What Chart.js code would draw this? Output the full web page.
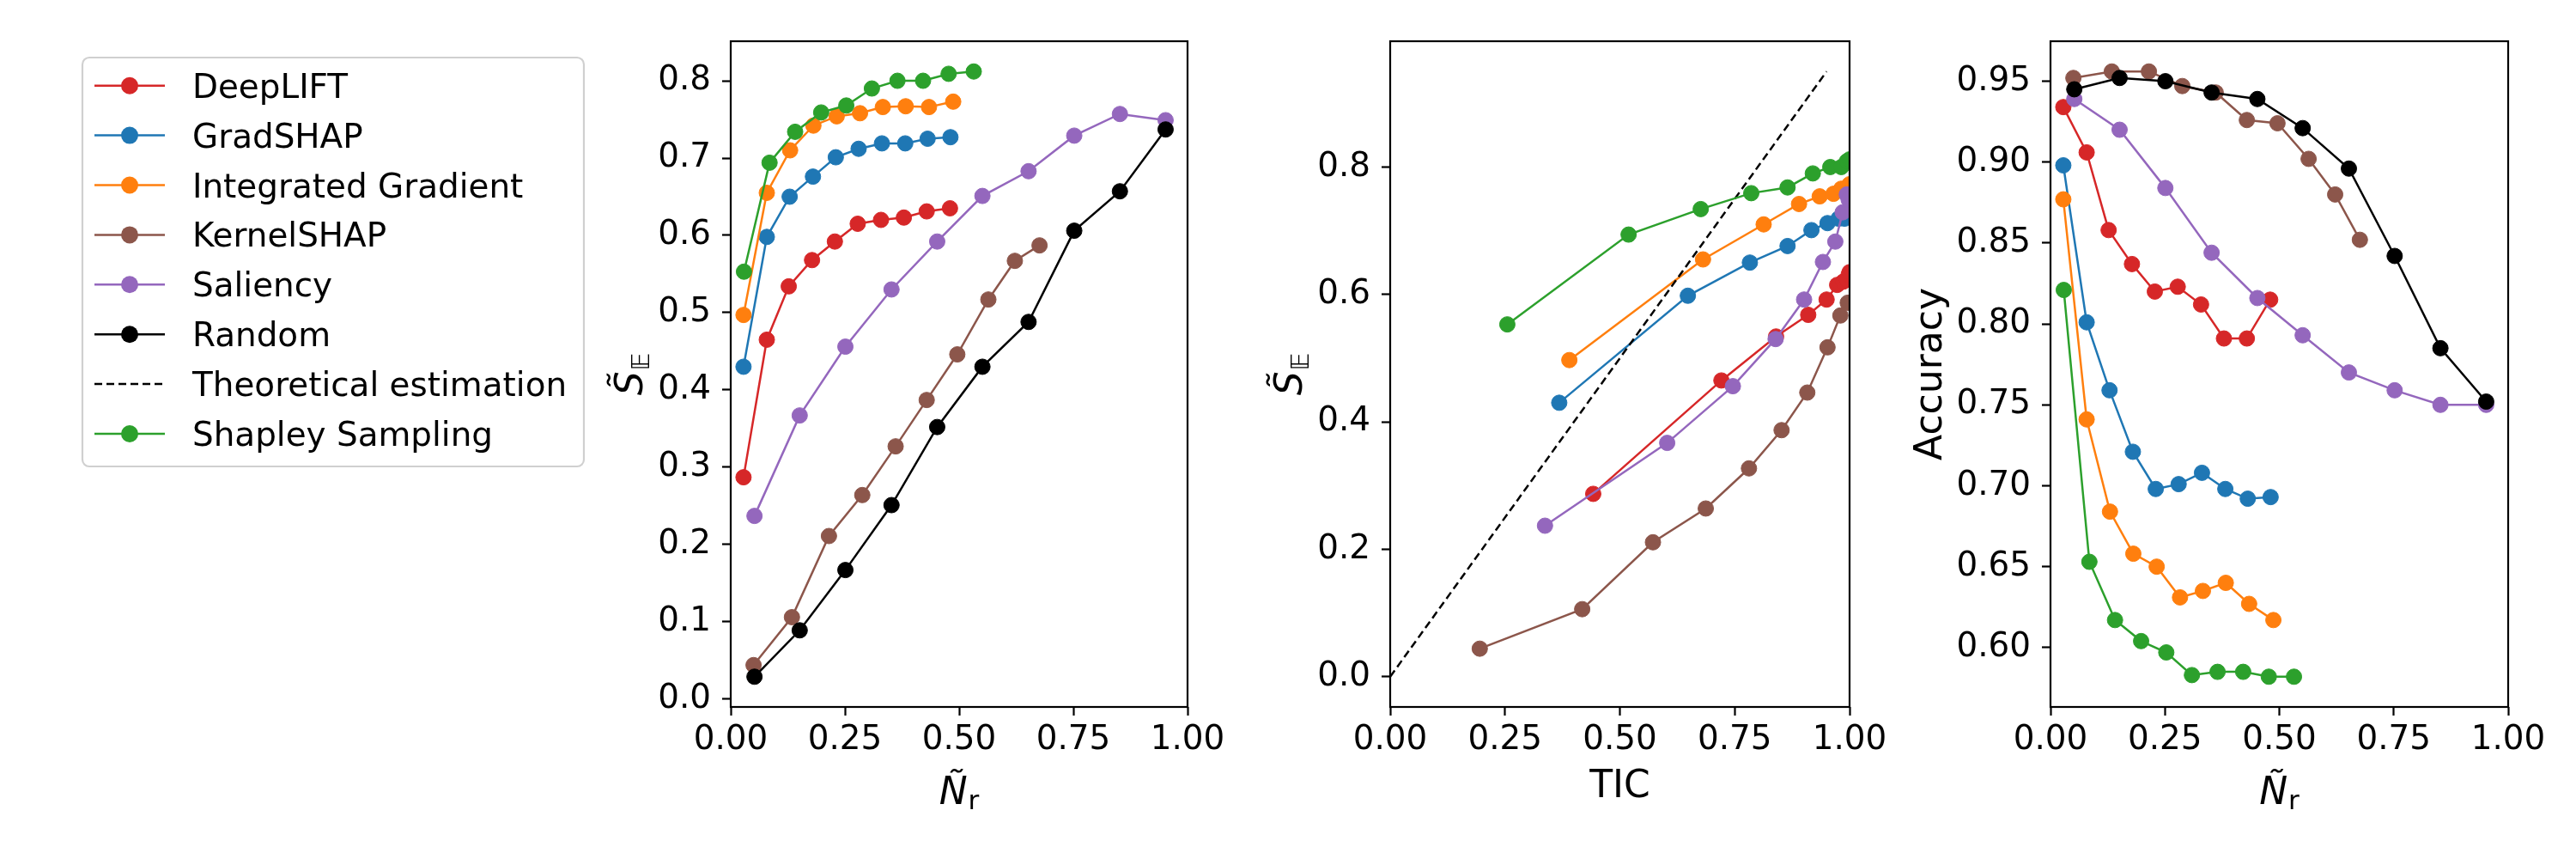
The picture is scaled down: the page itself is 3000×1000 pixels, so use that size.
<!DOCTYPE html>
<html>
<head>
<meta charset="utf-8">
<script src="https://cdn.jsdelivr.net/npm/chart.js@4.4.0/dist/chart.umd.min.js"></script>
<style>
  html, body { margin: 0; padding: 0; background: #fff; }
  #wrap { position: relative; width: 3000px; height: 1000px; background: #fff; overflow: hidden; }
  canvas { position: absolute; top: 0; }
</style>
</head>
<body>
<div id="wrap">
  <canvas id="c1" width="1440" height="1000" style="left:0px"></canvas>
  <canvas id="c2" width="774" height="1000" style="left:1440px"></canvas>
  <canvas id="c3" width="786" height="1000" style="left:2214px"></canvas>
</div>
<script>
// ---- data ----
const methods = ["DeepLIFT", "GradSHAP", "Integrated Gradient", "KernelSHAP", "Saliency", "Random", "Shapley Sampling"];
const colors = ["#d62728", "#1f77b4", "#ff7f0e", "#8c564b", "#9467bd", "#000000", "#2ca02c"];

// fraction of removed features (N_r)
const deepliftNr = [0.028, 0.079, 0.127, 0.178, 0.228, 0.278, 0.329, 0.379, 0.429, 0.480];
const gradshapNr = [0.028, 0.079, 0.129, 0.180, 0.230, 0.280, 0.331, 0.382, 0.431, 0.481];
const igNr       = [0.028, 0.079, 0.130, 0.181, 0.232, 0.283, 0.333, 0.383, 0.434, 0.487];
const kernelNr   = [0.050, 0.134, 0.215, 0.288, 0.361, 0.429, 0.496, 0.564, 0.622, 0.676];
const saliencyNr = [0.052, 0.151, 0.251, 0.352, 0.452, 0.551, 0.652, 0.752, 0.852, 0.952];
const randomNr   = [0.052, 0.151, 0.251, 0.352, 0.452, 0.551, 0.652, 0.752, 0.852, 0.952];
const shapleyNr  = [0.029, 0.085, 0.141, 0.198, 0.253, 0.309, 0.365, 0.421, 0.477, 0.532];

// S_E
const deepliftSE = [0.287, 0.465, 0.534, 0.568, 0.592, 0.615, 0.620, 0.623, 0.631, 0.635];
const gradshapSE = [0.430, 0.598, 0.650, 0.676, 0.701, 0.712, 0.719, 0.719, 0.725, 0.727];
const igSE       = [0.497, 0.655, 0.710, 0.742, 0.754, 0.758, 0.766, 0.767, 0.766, 0.773];
const kernelSE   = [0.044, 0.106, 0.211, 0.264, 0.327, 0.387, 0.446, 0.517, 0.567, 0.587];
const saliencySE = [0.237, 0.367, 0.456, 0.530, 0.592, 0.651, 0.683, 0.729, 0.757, 0.749];
const randomSE   = [0.029, 0.089, 0.167, 0.251, 0.352, 0.430, 0.488, 0.606, 0.657, 0.737];
const shapleySE  = [0.553, 0.694, 0.734, 0.759, 0.768, 0.790, 0.800, 0.800, 0.809, 0.812];

// TIC
const deepliftTIC = [0.442, 0.721, 0.840, 0.910, 0.950, 0.973, 0.986, 0.994, 0.998, 1.000];
const gradshapTIC = [0.368, 0.648, 0.783, 0.865, 0.917, 0.952, 0.976, 0.989, 0.996, 1.000];
const igTIC       = [0.390, 0.681, 0.813, 0.890, 0.935, 0.965, 0.982, 0.992, 0.998, 1.000];
const kernelTIC   = [0.195, 0.418, 0.572, 0.687, 0.781, 0.852, 0.908, 0.952, 0.980, 0.996];
const saliencyTIC = [0.337, 0.603, 0.746, 0.839, 0.901, 0.942, 0.969, 0.985, 0.994, 0.998];
const shapleyTIC  = [0.255, 0.519, 0.676, 0.786, 0.865, 0.920, 0.958, 0.982, 0.994, 1.000];
const theoryX = [0, 0.95];
const theoryY = [0, 0.95];

// accuracy
const deepliftAcc = [0.934, 0.906, 0.858, 0.837, 0.820, 0.823, 0.812, 0.791, 0.791, 0.815];
const gradshapAcc = [0.898, 0.801, 0.759, 0.721, 0.698, 0.701, 0.708, 0.698, 0.692, 0.693];
const igAcc       = [0.877, 0.741, 0.684, 0.658, 0.650, 0.631, 0.635, 0.640, 0.627, 0.617];
const kernelAcc   = [0.952, 0.956, 0.956, 0.947, 0.943, 0.926, 0.924, 0.902, 0.880, 0.852];
const saliencyAcc = [0.939, 0.920, 0.884, 0.844, 0.816, 0.793, 0.770, 0.759, 0.750, 0.750];
const randomAcc   = [0.945, 0.952, 0.950, 0.943, 0.939, 0.921, 0.896, 0.842, 0.785, 0.752];
const shapleyAcc  = [0.821, 0.653, 0.617, 0.604, 0.597, 0.583, 0.585, 0.585, 0.582, 0.582];

// tick values
const nrTicks  = [0, 0.25, 0.5, 0.75, 1];
const seTicks  = [0, 0.1, 0.2, 0.3, 0.4, 0.5, 0.6, 0.7, 0.8];
const ticTicks = [0, 0.2, 0.4, 0.6, 0.8];
const accTicks = [0.60, 0.65, 0.70, 0.75, 0.80, 0.85, 0.90, 0.95];

// ---- helpers ----
const FAMILY = "'DejaVu Sans', sans-serif";
const TICK_FONT = { family: FAMILY, size: 38.9 };
const TOP = 48, BOTTOM = 823, H = 1000;

function pairs(xs, ys) {
  return xs.map((x, i) => ({ x: x, y: ys[i] }));
}

function series(i, xs, ys) {
  return {
    label: methods[i],
    data: pairs(xs, ys),
    borderColor: colors[i],
    backgroundColor: colors[i],
    pointBackgroundColor: colors[i],
    pointBorderColor: colors[i],
    borderWidth: 2.5,
    pointRadius: 9,
    pointBorderWidth: 1,
    tension: 0,
    clip: 0
  };
}

// matplotlib-style auto limits with 5% margins
function autoRange(arrays) {
  const all = [].concat(...arrays);
  const lo = Math.min(...all), hi = Math.max(...all);
  const m = (hi - lo) * 0.05;
  return [lo - m, hi + m];
}

function drawRich(ctx, parts, x, y, vertical) {
  ctx.save();
  ctx.translate(x, y);
  if (vertical) ctx.rotate(-Math.PI / 2);
  let total = 0;
  parts.forEach(p => { ctx.font = p.font; p.w = ctx.measureText(p.t).width; total += p.w + (p.gap || 0); });
  let pos = -total / 2;
  ctx.fillStyle = "#000";
  ctx.textAlign = "left";
  ctx.textBaseline = "alphabetic";
  parts.forEach(p => {
    ctx.font = p.font;
    pos += p.gap || 0;
    ctx.fillText(p.t, pos, p.dy || 0);
    pos += p.w;
  });
  ctx.restore();
}

const nrLabel  = [{ t: "\u00D1", font: "italic 44px " + FAMILY }, { t: "r", font: "31px " + FAMILY, dy: 6, gap: 1 }];
const seLabel  = [{ t: "S\u0303", font: "italic 44px " + FAMILY }, { t: "\uD835\uDD3C", font: "28px " + FAMILY, dy: 8, gap: 1 }];
const ticLabel = [{ t: "TIC", font: "44px " + FAMILY }];
const accLabel = [{ t: "Accuracy", font: "44px " + FAMILY }];

// box around the axes + axis titles
function framePlugin(xParts, xBase, yParts, yBaseOffset) {
  return {
    id: "frame",
    afterDatasetsDraw(chart) {
      const a = chart.chartArea, ctx = chart.ctx;
      ctx.save();
      ctx.strokeStyle = "#000";
      ctx.lineWidth = 2.2;
      ctx.strokeRect(a.left, a.top, a.right - a.left, a.bottom - a.top);
      ctx.restore();
    },
    afterDraw(chart) {
      const a = chart.chartArea, ctx = chart.ctx;
      drawRich(ctx, xParts, (a.left + a.right) / 2, xBase, false);
      drawRich(ctx, yParts, a.left - yBaseOffset, (a.top + a.bottom) / 2, true);
    }
  };
}

const legendLabels = ["DeepLIFT", "GradSHAP", "Integrated Gradient", "KernelSHAP", "Saliency", "Random", "Theoretical estimation", "Shapley Sampling"];
const legendColors = ["#d62728", "#1f77b4", "#ff7f0e", "#8c564b", "#9467bd", "#000000", "#000000", "#2ca02c"];

const legendPlugin = {
  id: "sideLegend",
  afterDraw(chart) {
    const ctx = chart.ctx;
    ctx.save();
    ctx.beginPath();
    ctx.roundRect(96, 67, 584, 476, 8);
    ctx.fillStyle = "#fff";
    ctx.fill();
    ctx.strokeStyle = "#d0d0d0";
    ctx.lineWidth = 2.2;
    ctx.stroke();
    legendLabels.forEach((name, i) => {
      const y = 99.7 + i * 57.9;
      const dashed = name === "Theoretical estimation";
      ctx.strokeStyle = legendColors[i];
      ctx.lineWidth = 2.5;
      ctx.setLineDash(dashed ? [9, 5] : []);
      ctx.beginPath();
      ctx.moveTo(110, y);
      ctx.lineTo(192, y);
      ctx.stroke();
      ctx.setLineDash([]);
      if (!dashed) {
        ctx.fillStyle = legendColors[i];
        ctx.beginPath();
        ctx.arc(151, y, 10, 0, Math.PI * 2);
        ctx.fill();
      }
      ctx.fillStyle = "#000";
      ctx.font = "38.9px " + FAMILY;
      ctx.textAlign = "left";
      ctx.textBaseline = "alphabetic";
      ctx.fillText(name, 224, y + 14);
    });
    ctx.restore();
  }
};

function axisOpts(ticks, fmt, range, isX) {
  const o = {
    type: "linear",
    min: range[0],
    max: range[1],
    afterBuildTicks: s => { s.ticks = ticks.map(v => ({ value: v })); },
    ticks: {
      callback: v => v.toFixed(fmt),
      font: TICK_FONT,
      color: "#000",
      padding: isX ? 6 : 13,
      autoSkip: false,
      maxRotation: 0,
      minRotation: 0
    },
    grid: { display: true, drawOnChartArea: false, drawTicks: true, tickLength: 10, tickWidth: 2.2, tickColor: "#000" },
    border: { display: false }
  };
  if (isX) o.afterFit = s => { s.height = 100; };
  else o.afterFit = s => { s.width = 140; };
  return o;
}

function makeChart(id, datasets, cfg, extraPlugins) {
  return new Chart(document.getElementById(id), {
    type: "line",
    data: { datasets: datasets },
    options: {
      responsive: false,
      animation: false,
      devicePixelRatio: 1,
      parsing: true,
      layout: { padding: { left: cfg.left - 140, right: cfg.right, top: TOP, bottom: H - BOTTOM - 100 } },
      plugins: { legend: { display: false }, tooltip: { enabled: false } },
      scales: {
        x: axisOpts(nrTicks, 2, [0, 1], true),
        y: axisOpts(cfg.yTicks, cfg.yFmt, cfg.yRange, false)
      }
    },
    plugins: extraPlugins
  });
}

// draw order like matplotlib: later series on top
function ordered(list) {
  list.forEach((d, i) => { d.order = list.length - i; });
  return list;
}

// ---- panel 1: S_E vs N_r ----
const p1 = ordered([
  series(0, deepliftNr, deepliftSE),
  series(1, gradshapNr, gradshapSE),
  series(2, igNr, igSE),
  series(3, kernelNr, kernelSE),
  series(4, saliencyNr, saliencySE),
  series(5, randomNr, randomSE),
  series(6, shapleyNr, shapleySE)
]);
makeChart("c1", p1, {
  left: 851, right: 1440 - 1383,
  yTicks: seTicks, yFmt: 1,
  yRange: autoRange([deepliftSE, gradshapSE, igSE, kernelSE, saliencySE, randomSE, shapleySE])
}, [framePlugin(nrLabel, 936, seLabel, 103), legendPlugin]);

// ---- panel 2: S_E vs TIC ----
const theory = {
  label: "Theoretical estimation",
  data: pairs(theoryX, theoryY),
  borderColor: "#000",
  borderWidth: 2.5,
  borderDash: [9, 5],
  pointRadius: 0,
  tension: 0,
  clip: 0
};
const p2 = ordered([
  series(0, deepliftTIC, deepliftSE),
  series(1, gradshapTIC, gradshapSE),
  series(2, igTIC, igSE),
  series(3, kernelTIC, kernelSE),
  series(4, saliencyTIC, saliencySE),
  theory,
  series(6, shapleyTIC, shapleySE)
]);
makeChart("c2", p2, {
  left: 1619 - 1440, right: 774 - (2154 - 1440),
  yTicks: ticTicks, yFmt: 1,
  yRange: autoRange([deepliftSE, gradshapSE, igSE, kernelSE, saliencySE, shapleySE, theoryY])
}, [framePlugin(ticLabel, 928, seLabel, 103)]);

// ---- panel 3: accuracy vs N_r ----
const p3 = ordered([
  series(0, deepliftNr, deepliftAcc),
  series(1, gradshapNr, gradshapAcc),
  series(2, igNr, igAcc),
  series(3, kernelNr, kernelAcc),
  series(4, saliencyNr, saliencyAcc),
  series(5, randomNr, randomAcc),
  series(6, shapleyNr, shapleyAcc)
]);
makeChart("c3", p3, {
  left: 2388 - 2214, right: 786 - (2921 - 2214),
  yTicks: accTicks, yFmt: 2,
  yRange: autoRange([deepliftAcc, gradshapAcc, igAcc, kernelAcc, saliencyAcc, randomAcc, shapleyAcc])
}, [framePlugin(nrLabel, 936, accLabel, 127)]);
</script>
</body>
</html>
